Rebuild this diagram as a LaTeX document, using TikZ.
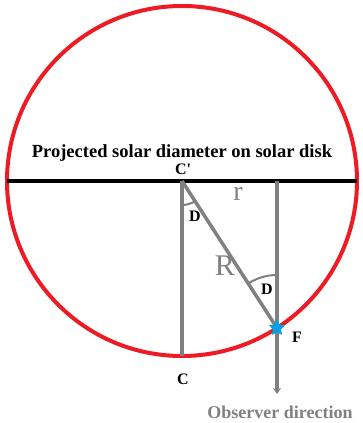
\documentclass[tikz,border=0pt]{standalone}
\usepackage{fontspec}
\setmainfont{Liberation Serif}
\usetikzlibrary{arrows.meta, angles, shapes.geometric}
\definecolor{sunred}{RGB}{237,28,36}
\definecolor{raygray}{RGB}{128,128,128}
\definecolor{starblue}{RGB}{0,162,232}
\tikzset{ray/.style={draw=raygray,line width=3.5pt},lbl/.style={font=\bfseries\fontsize{16}{18}\selectfont,inner sep=1pt},big/.style={text=raygray,inner sep=0pt}}

\begin{document}
\begin{tikzpicture}[x=1pt,y=1pt]
\useasboundingbox (0,0) rectangle (362,423);
\coordinate (cp) at (182,242);
\coordinate (c) at (182,67);
\coordinate (f) at (277,95);
\coordinate (t) at (277,242);
\coordinate (obs) at (277,29);
\coordinate (west) at (7,242);
\coordinate (east) at (357,242);
\draw[sunred, line width=4pt] (cp) circle (175);
\draw[line width=4pt] (west) -- (east);
\draw[ray] (cp) -- (c);
\draw[ray] (cp) -- (f);
\draw[ray, -{Stealth[length=6pt,width=8pt]}] (t) -- (obs);
\pic[draw=raygray, line width=2pt, angle radius=24pt] {angle = c--cp--f};
\pic[draw=raygray, line width=2pt, angle radius=53pt] {angle = t--f--cp};
\node[star, star points=5, star point ratio=2, fill=starblue, minimum size=17pt, inner sep=0pt] (fstar) at (f) {};
\node[font=\bfseries\fontsize{18.5}{20}\selectfont] (title) at (182,270) {Projected solar diameter on solar disk};
\node[lbl] (cplbl) at (183,254) {C\textquotesingle};
\node[lbl] (clbl) at (183,44) {C};
\node[lbl] (flbl) at (297,86) {F};
\node[lbl] (d1) at (195,207) {D};
\node[lbl] (d2) at (267,134) {D};
\node[big, font=\fontsize{28}{30}\selectfont] (rsmall) at (238,229) {r};
\node[big, font=\fontsize{30}{32}\selectfont] (rbig) at (225,157) {R};
\node[text=raygray, font=\bfseries\fontsize{18}{20}\selectfont] (obslbl) at (280,11) {Observer direction};
\end{tikzpicture}
\end{document}
